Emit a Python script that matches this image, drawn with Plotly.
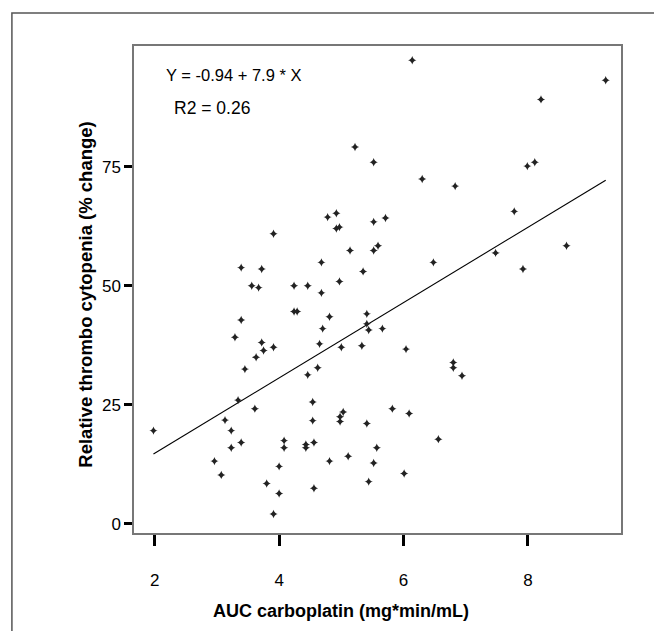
import plotly.graph_objects as go

# AUC carboplatin (mg*min/mL) vs relative thrombocytopenia (% change)
auc = [5.22, 5.52, 4.78, 4.92, 4.92, 4.97, 5.52, 3.91, 5.14, 5.52,
       5.59, 4.68, 3.39, 3.72, 5.35, 4.97, 3.56, 3.67, 4.24, 4.46,
       4.68, 6.14, 9.25, 8.21, 7.99, 8.11, 6.30, 6.83, 7.78, 5.71,
       6.48, 7.48, 8.62, 7.92, 4.24, 4.29, 3.39, 4.81, 5.41, 5.41,
       5.44, 4.70, 3.29, 3.72, 3.75, 3.91, 3.63, 4.65, 5.00, 5.33,
       5.66, 3.45, 4.62, 4.46, 3.34, 3.61, 4.54, 3.13, 3.23, 1.98,
       3.39, 3.23, 4.54, 4.98, 4.98, 5.03, 5.41, 4.08, 4.08, 4.43,
       4.43, 4.56, 5.57, 5.52, 4.81, 5.11, 2.96, 3.07, 4.00, 3.80,
       4.00, 4.56, 5.44, 3.91, 6.04, 6.80, 6.80, 6.94, 5.82, 6.09,
       6.56, 6.01]
thrombo = [79.1, 75.9, 64.4, 65.2, 62.0, 62.3, 63.4, 60.9, 57.4, 57.4,
           58.4, 54.9, 53.8, 53.5, 53.0, 50.9, 50.0, 49.6, 50.0, 50.0,
           48.5, 97.3, 93.1, 89.1, 75.1, 75.9, 72.4, 70.9, 65.6, 64.2,
           54.9, 56.9, 58.4, 53.5, 44.6, 44.6, 42.8, 43.5, 44.1, 42.0,
           40.7, 41.0, 39.2, 38.1, 36.4, 37.1, 35.0, 37.8, 37.1, 37.4,
           41.0, 32.5, 32.8, 31.3, 26.0, 24.2, 25.6, 21.8, 19.6, 19.6,
           17.1, 16.0, 21.7, 22.5, 21.5, 23.5, 21.1, 17.5, 16.0, 16.7,
           16.0, 17.1, 16.0, 12.8, 13.2, 14.2, 13.2, 10.3, 12.1, 8.5,
           6.4, 7.5, 8.9, 2.1, 36.7, 33.9, 32.8, 31.1, 24.2, 23.2,
           17.8, 10.6]

intercept = -0.94
slope = 7.9
r2 = 0.26

x_ticks = [2, 4, 6, 8]
y_ticks = [0, 25, 50, 75]

FONT = "Liberation Sans, Arial, sans-serif"

fit_x = [min(auc), max(auc)]
fit_y = [intercept + slope * v for v in fit_x]

fig = go.Figure()
fig.add_trace(go.Scatter(x=fit_x, y=fit_y, mode="lines",
                         line=dict(color="black", width=1.1),
                         showlegend=False, hoverinfo="skip"))
fig.add_trace(go.Scatter(x=auc, y=thrombo, mode="markers",
                         marker=dict(symbol="star-diamond", size=6, color="#222222",
                                     line=dict(width=0)),
                         showlegend=False))

# page body has an 8px margin, so the figure is a little smaller than the window
fig.update_layout(
    width=654, height=623,
    margin=dict(l=126, r=41, t=38, b=98),
    paper_bgcolor="white", plot_bgcolor="white",
    font=dict(family=FONT, color="black", size=17),
    xaxis=dict(range=[1.667, 9.496], tickvals=x_ticks, ticks="outside",
               ticklen=11, tickwidth=3, tickcolor="black",
               ticklabelstandoff=20,
               showgrid=False, zeroline=False,
               showline=True, linecolor="#777777", linewidth=1.5, mirror=True,
               tickfont=dict(size=17)),
    yaxis=dict(range=[-1.89, 100.3], tickvals=y_ticks, ticks="outside",
               ticklen=8, tickwidth=3, tickcolor="black",
               showgrid=False, zeroline=False,
               showline=True, linecolor="#777777", linewidth=1.5, mirror=True,
               tickfont=dict(size=17)),
)

# axis titles
fig.add_annotation(text="<b>AUC carboplatin (mg*min/mL)</b>", xref="paper", yref="paper",
                   x=0.425, y=-0.16, xanchor="center", yanchor="middle",
                   showarrow=False, font=dict(size=18))
fig.add_annotation(text="<b>Relative thrombo cytopenia (% change)</b>", xref="paper", yref="paper",
                   x=-0.1, y=0.49, xanchor="center", yanchor="middle", textangle=-90,
                   showarrow=False, font=dict(size=18.5))

# regression equation
fig.add_annotation(text=f"Y = {intercept} + {slope} * X", xref="paper", yref="paper",
                   x=0.062, y=0.94, xanchor="left", yanchor="middle",
                   showarrow=False, font=dict(size=16.5))
fig.add_annotation(text=f"R2 = {r2}", xref="paper", yref="paper",
                   x=0.078, y=0.873, xanchor="left", yanchor="middle",
                   showarrow=False, font=dict(size=17.5))

# outer frame around the figure (cut off at right and bottom)
fig.add_shape(type="rect", xref="paper", yref="paper",
              x0=-0.2507, x1=1.3, y0=-0.4, y1=1.0678,
              line=dict(color="#555555", width=1.5))

fig.write_html("out.html")
